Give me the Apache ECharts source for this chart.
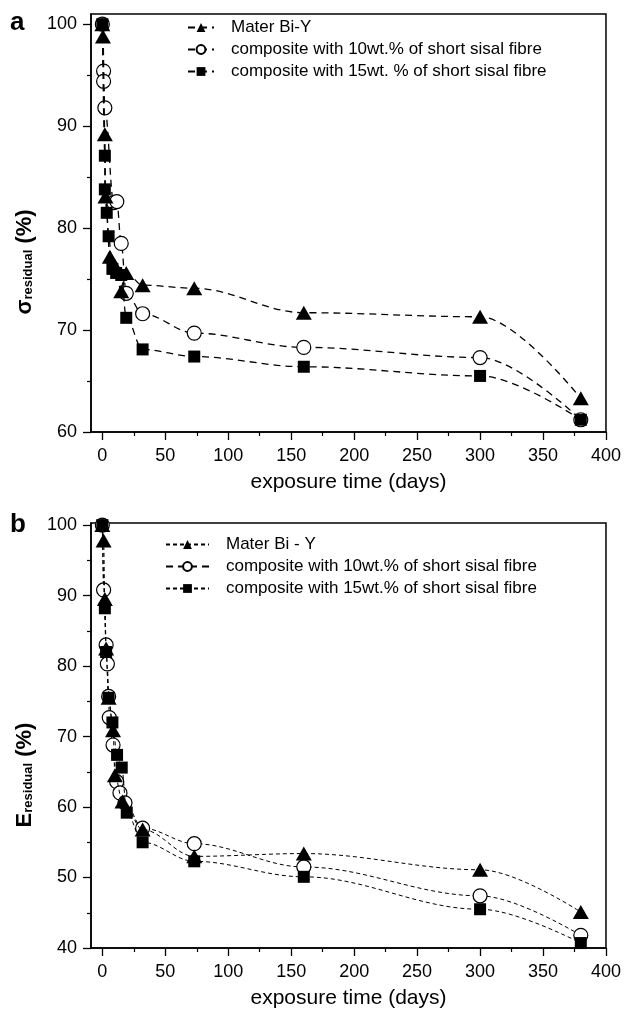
<!DOCTYPE html>
<html>
<head>
<meta charset="utf-8">
<script src="https://cdn.jsdelivr.net/npm/echarts@6/dist/echarts.min.js"></script>
<style>
  html, body { margin: 0; padding: 0; background: #fff; }
  #chart { width: 624px; height: 1010px; }
</style>
</head>
<body>
<div id="chart"></div>
<script>
// panel a: residual tensile strength (%)
const namesA = ['Mater Bi-Y', 'composite with 10wt.% of short sisal fibre', 'composite with 15wt. % of short sisal fibre']
const daysA_mater = [0, 0.5, 2, 2.5, 6, 10, 15, 19, 32, 73, 160, 300, 380]
const valsA_mater = [100, 98.8, 89.2, 83.1, 77.2, 76.3, 73.8, 75.6, 74.4, 74.1, 71.7, 71.3, 63.3]
const daysA_10 = [0, 1, 1, 2, 9, 11.5, 15, 19, 32, 73, 160, 300, 380]
const valsA_10 = [100, 95.4, 94.4, 91.8, 82.5, 82.6, 78.5, 73.6, 71.6, 69.7, 68.3, 67.3, 61.2]
const daysA_15 = [0, 2, 2, 3.5, 5, 8, 11, 15, 19, 32, 73, 160, 300, 380]
const valsA_15 = [100, 87.1, 83.8, 81.5, 79.2, 76, 75.6, 75.4, 71.2, 68.1, 67.4, 66.4, 65.5, 61.2]

// panel b: residual modulus (%)
const namesB = ['Mater Bi - Y', 'composite with 10wt.% of short sisal fibre', 'composite with 15wt.% of short sisal fibre']
const daysB_mater = [0, 1, 2, 3, 5, 8.5, 10, 16, 32, 73, 160, 300, 380]
const valsB_mater = [100, 97.8, 89.5, 82.5, 75.5, 70.9, 64.5, 60.8, 56.8, 53, 53.4, 51.1, 45.1]
const daysB_10 = [0, 1, 3, 4, 5, 5.5, 8.5, 11.4, 14, 18, 32, 73, 160, 300, 380]
const valsB_10 = [100, 90.8, 83, 80.3, 75.7, 72.7, 68.8, 63.6, 62, 60.6, 57, 54.8, 51.5, 47.4, 41.8]
const daysB_15 = [0, 2, 3, 5, 8, 11.7, 15.4, 19.4, 32, 73, 160, 300, 380]
const valsB_15 = [100, 88.2, 82, 75.5, 72, 67.4, 65.6, 59.2, 55, 52.3, 50.1, 45.5, 40.7]

// tick values
const xMajor = [0, 50, 100, 150, 200, 250, 300, 350, 400]
const xMinor = [25, 75, 125, 175, 225, 275, 325, 375]
const yMajorA = [60, 70, 80, 90, 100]
const yMinorA = [65, 75, 85, 95]
const yMajorB = [40, 50, 60, 70, 80, 90, 100]
const yMinorB = [45, 55, 65, 75, 85, 95]

const FONT = 'Liberation Sans'
const zip = (xs, ys) => xs.map((x, i) => [x, ys[i]])

function xAxes(grid) {
  const base = {
    type: 'value', gridIndex: grid, min: -9, max: 400, position: 'bottom',
    splitLine: { show: false }
  }
  return [
    Object.assign({}, base, {
      name: 'exposure time (days)', nameLocation: 'middle', nameGap: 40,
      nameTextStyle: { fontFamily: FONT, fontSize: 21, color: '#000' },
      axisLine: { onZero: false, lineStyle: { color: '#000', width: 1.5 } },
      axisTick: { customValues: xMajor, length: 8, lineStyle: { color: '#000', width: 1.3 } },
      axisLabel: { customValues: xMajor, margin: 15, fontFamily: FONT, fontSize: 18, color: '#000' }
    }),
    // minor ticks only
    Object.assign({}, base, {
      axisLine: { show: false, onZero: false },
      axisTick: { customValues: xMinor, length: 4, lineStyle: { color: '#000', width: 1.2 } },
      axisLabel: { show: false }
    })
  ]
}

function yAxes(grid, min, max, major, minor) {
  const base = { type: 'value', gridIndex: grid, min: min, max: max, position: 'left', splitLine: { show: false } }
  return [
    Object.assign({}, base, {
      axisLine: { onZero: false, lineStyle: { color: '#000', width: 1.5 } },
      axisTick: { customValues: major, length: 8, lineStyle: { color: '#000', width: 1.3 } },
      axisLabel: { customValues: major, margin: 14, fontFamily: FONT, fontSize: 18, color: '#000' }
    }),
    Object.assign({}, base, {
      axisLine: { show: false, onZero: false },
      axisTick: { customValues: minor, length: 4, lineStyle: { color: '#000', width: 1.2 } },
      axisLabel: { show: false }
    })
  ]
}

function makeSeries(name, data, kind, grid, dash, width) {
  const s = {
    name: name, type: 'line', data: data,
    xAxisIndex: grid * 2, yAxisIndex: grid * 2,
    smooth: 0.35, smoothMonotone: 'x',
    lineStyle: { color: '#000', width: width, type: dash },
    emphasis: { disabled: true }
  }
  if (kind === 'tri') {
    s.symbol = 'triangle'; s.symbolSize = [16, 14]; s.z = 4
    s.itemStyle = { color: '#000' }
  } else if (kind === 'circ') {
    s.symbol = 'circle'; s.symbolSize = 14; s.z = 2
    s.itemStyle = { color: '#fff', borderColor: '#000', borderWidth: 1.2 }
  } else {
    s.symbol = 'rect'; s.symbolSize = 12; s.z = 3
    s.itemStyle = { color: '#000' }
  }
  return s
}

const dashA = [7, 5]
const dashB = [4, 3]

const chart = echarts.init(document.getElementById('chart'))
chart.setOption({
  animation: false,
  backgroundColor: '#fff',
  grid: [
    { left: 91, right: 17, top: 14, height: 418, show: true, borderColor: '#000', borderWidth: 1.5 },
    { left: 91, right: 17, top: 523, height: 426, show: true, borderColor: '#000', borderWidth: 1.5 }
  ],
  xAxis: xAxes(0).concat(xAxes(1)),
  yAxis: yAxes(0, 60, 101, yMajorA, yMinorA).concat(yAxes(1, 40, 100.3, yMajorB, yMinorB)),
  legend: [
    {
      orient: 'vertical', left: 182, top: 14, itemWidth: 26, itemHeight: 11, itemGap: 5,
      data: namesA, selectedMode: false,
      textStyle: { fontFamily: FONT, fontSize: 17, color: '#000', padding: [0, 0, 0, 12] }
    },
    {
      orient: 'vertical', left: 160, top: 531, itemWidth: 43, itemHeight: 11, itemGap: 5,
      data: namesB, selectedMode: false,
      textStyle: { fontFamily: FONT, fontSize: 17, color: '#000', padding: [0, 0, 0, 12] }
    }
  ],
  graphic: [
    { type: 'text', left: 10, top: 10, style: { text: 'a', font: 'bold 26px ' + FONT, fill: '#000' } },
    { type: 'text', left: 10, top: 512, style: { text: 'b', font: 'bold 26px ' + FONT, fill: '#000' } },
    {
      type: 'text', x: 28, y: 262, rotation: Math.PI / 2,
      style: {
        text: '{m|σ}{s|residual}{m| (%)}', align: 'center', verticalAlign: 'middle', fill: '#000',
        rich: {
          m: { fontFamily: FONT, fontSize: 22, fontWeight: 'bold', padding: [0, 0, 6, 0] },
          s: { fontFamily: FONT, fontSize: 13, fontWeight: 'bold' }
        }
      }
    },
    {
      type: 'text', x: 28, y: 775, rotation: Math.PI / 2,
      style: {
        text: '{m|E}{s|residual}{m| (%)}', align: 'center', verticalAlign: 'middle', fill: '#000',
        rich: {
          m: { fontFamily: FONT, fontSize: 22, fontWeight: 'bold', padding: [0, 0, 6, 0] },
          s: { fontFamily: FONT, fontSize: 13, fontWeight: 'bold' }
        }
      }
    }
  ],
  series: [
    makeSeries(namesA[1], zip(daysA_10, valsA_10), 'circ', 0, dashA, 1.3),
    makeSeries(namesA[2], zip(daysA_15, valsA_15), 'sq', 0, dashA, 1.3),
    makeSeries(namesA[0], zip(daysA_mater, valsA_mater), 'tri', 0, dashA, 1.3),
    makeSeries(namesB[1], zip(daysB_10, valsB_10), 'circ', 1, dashB, 1),
    makeSeries(namesB[2], zip(daysB_15, valsB_15), 'sq', 1, dashB, 1),
    makeSeries(namesB[0], zip(daysB_mater, valsB_mater), 'tri', 1, dashB, 1)
  ]
})
</script>
</body>
</html>
